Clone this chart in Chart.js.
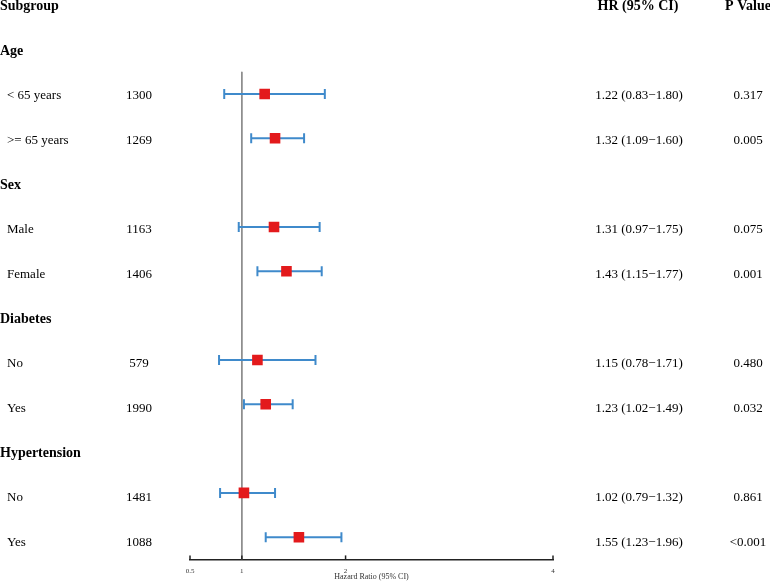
<!DOCTYPE html>
<html>
<head>
<meta charset="utf-8">
<script src="https://cdn.jsdelivr.net/npm/chart.js"></script>
<style>
  html, body { margin: 0; padding: 0; background: #fff; }
  canvas { display: block; }
</style>
</head>
<body>
<canvas id="forest" width="770" height="584"></canvas>
<script>
// datos
const groups = ['Age', 'Sex', 'Diabetes', 'Hypertension'];
const subgroups = ['< 65 years', '>= 65 years', 'Male', 'Female', 'No', 'Yes', 'No', 'Yes'];
const counts = [1300, 1269, 1163, 1406, 579, 1990, 1481, 1088];
const hr = [1.22, 1.32, 1.31, 1.43, 1.15, 1.23, 1.02, 1.55];
const lower = [0.83, 1.09, 0.97, 1.15, 0.78, 1.02, 0.79, 1.23];
const upper = [1.80, 1.60, 1.75, 1.77, 1.71, 1.49, 1.32, 1.96];
const pValues = ['0.317', '0.005', '0.075', '0.001', '0.480', '0.032', '0.861', '<0.001'];
const xTicks = [0.5, 1, 2, 4];
const headers = ['Subgroup', 'HR (95% CI)', 'P Value'];
const axisTitle = 'Hazard Ratio (95% CI)';

// fila de cada subgrupo: cabecera del grupo y luego sus dos niveles
const rowOf = i => 2 + Math.floor(i / 2) * 3 + (i % 2);
const groupRow = g => 1 + g * 3;

const RED = '#E31A1C';
const BLUE = '#3F8ACB';
const SERIF = '"Liberation Serif", "Times New Roman", serif';

// barras de IC: una línea con remates verticales por fila
const ciSets = hr.map((v, i) => ({
  type: 'line',
  data: [{ x: lower[i], y: rowOf(i) }, { x: upper[i], y: rowOf(i) }],
  borderColor: BLUE,
  borderWidth: 2,
  pointStyle: 'line',
  pointRotation: 90,
  pointRadius: 5,
  pointBorderWidth: 2,
  pointBorderColor: BLUE,
  order: 2
}));

const textPlugin = {
  id: 'forestText',
  afterDraw(chart) {
    const ctx = chart.ctx;
    const y = chart.scales.y;
    const x = chart.scales.x;
    const ty = r => y.getPixelForValue(r) + 1 + r * 0.35;
    ctx.save();
    ctx.fillStyle = '#000';
    ctx.textBaseline = 'middle';

    // cabeceras
    ctx.font = 'bold 14px ' + SERIF;
    ctx.textAlign = 'left';
    ctx.fillText(headers[0], 0, ty(0));
    ctx.textAlign = 'center';
    ctx.fillText(headers[1], 638, ty(0));
    ctx.fillText(headers[2], 748, ty(0));
    ctx.textAlign = 'left';
    groups.forEach((g, k) => ctx.fillText(g, 0, ty(groupRow(k))));

    // filas
    ctx.font = '13px ' + SERIF;
    subgroups.forEach((s, i) => {
      const r = ty(rowOf(i));
      ctx.textAlign = 'left';
      ctx.fillText(s, 7, r);
      ctx.textAlign = 'center';
      ctx.fillText(String(counts[i]), 139, r);
      ctx.fillText(hr[i].toFixed(2) + ' (' + lower[i].toFixed(2) + '\u2212' + upper[i].toFixed(2) + ')', 639, r);
      ctx.fillText(pValues[i], 748, r);
    });

    // marcas del eje hacia arriba
    ctx.strokeStyle = '#222';
    ctx.lineWidth = 1.5;
    x.ticks.forEach(t => {
      const px = x.getPixelForValue(t.value);
      ctx.beginPath();
      ctx.moveTo(px, x.top);
      ctx.lineTo(px, x.top - 4);
      ctx.stroke();
    });
    ctx.restore();
  }
};

new Chart(document.getElementById('forest'), {
  type: 'scatter',
  data: {
    datasets: [
      {
        type: 'scatter',
        data: hr.map((v, i) => ({ x: v, y: rowOf(i) })),
        pointStyle: 'rect',
        pointRadius: 7.5,
        backgroundColor: RED,
        borderColor: RED,
        borderWidth: 0,
        order: 1
      },
      ...ciSets,
      {
        type: 'line',
        data: [{ x: 1, y: 1.5 }, { x: 1, y: 12.5 }],
        borderColor: '#8a8a8a',
        borderWidth: 1,
        pointRadius: 0,
        order: 3
      }
    ]
  },
  options: {
    responsive: false,
    animation: false,
    devicePixelRatio: 1,
    layout: { padding: { left: 190, right: 217, top: 27.5, bottom: 2.6 } },
    plugins: { legend: { display: false }, tooltip: { enabled: false } },
    scales: {
      x: {
        type: 'linear',
        min: 0.5,
        max: 4,
        afterBuildTicks: axis => { axis.ticks = xTicks.map(v => ({ value: v })); },
        grid: { display: true, drawOnChartArea: false, drawTicks: false },
        border: { display: true, color: '#222', width: 1.5 },
        ticks: {
          padding: 8,
          color: '#333',
          autoSkip: false,
          maxRotation: 0,
          font: { family: SERIF, size: 7, lineHeight: 1 },
          callback: v => String(v)
        },
        title: {
          display: true,
          text: axisTitle,
          color: '#333',
          padding: { top: -9, bottom: 0 },
          font: { family: SERIF, size: 8, lineHeight: 1 }
        }
      },
      y: {
        type: 'linear',
        reverse: true,
        min: 0.5,
        max: 12.5,
        display: false
      }
    }
  },
  plugins: [textPlugin]
});
</script>
</body>
</html>
